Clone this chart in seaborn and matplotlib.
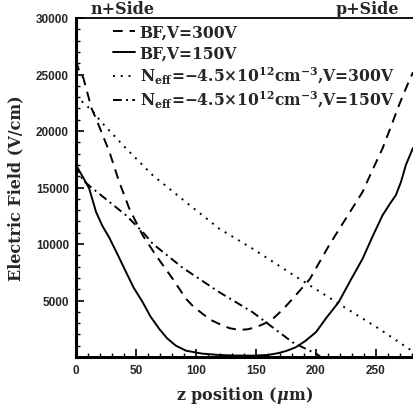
import numpy as np
import pandas as pd
import matplotlib
matplotlib.use("Agg")
import matplotlib.pyplot as plt
from matplotlib.ticker import MultipleLocator
import seaborn as sns

# ---- data (z in um, E in V/cm) ----
z_bf300 = [0, 3.3, 6.1, 13, 16.7, 27.8, 36, 44.4, 55.6, 66.7, 80.6, 91.7,
           98, 105.6, 112, 119.4, 128, 136, 143, 150, 157, 164, 172, 180.6,
           195, 211, 225, 239, 247, 255.6, 263, 269.4, 276, 281]
e_bf300 = [26200, 25100, 24700, 22000, 21100, 18170, 15500, 13140, 10770,
           8990, 6920, 5150, 4450, 3820, 3300, 2930, 2550, 2400, 2450, 2630,
           2950, 3370, 4150, 5150, 6900, 9880, 12250, 14620, 16500, 18460,
           20500, 22310, 24000, 25200]

z_bf150 = [0, 5.6, 11, 16.7, 22, 27.8, 35, 41.7, 48, 55.6, 62, 69.4, 76,
           83.3, 91.7, 105, 119, 133, 147, 160, 169, 176, 183, 191, 200,
           209, 219, 229, 239, 247, 255.6, 262, 266.7, 271, 275, 281]
e_bf150 = [16980, 15950, 14910, 12840, 11600, 10550, 9000, 7520, 6150, 4850,
           3600, 2490, 1650, 1000, 560, 300, 180, 130, 120, 180, 350, 560,
           850, 1400, 2190, 3500, 4850, 6800, 8700, 10600, 12540, 13600,
           14320, 15500, 16980, 18500]

z_n300 = [0, 14, 20.8, 41.7, 63.9, 91.7, 119.4, 147.2, 180.6, 219.4, 252.8,
          277.8, 282]
e_n300 = [23100, 21740, 20830, 18460, 16090, 13700, 11360, 9590, 7300, 4700,
          2490, 710, 400]

z_n150 = [0, 5.6, 13.9, 27.8, 41.7, 55.6, 63.9, 88.9, 119.4, 147.2, 169.4,
          180.6, 189, 201, 204]
e_n150 = [17000, 15650, 14910, 13730, 12540, 11070, 10030, 7900, 5740, 3970,
          2190, 1300, 860, 250, 0]

labels = [
    "BF,V=300V",
    "BF,V=150V",
    "$\\mathbf{N_{eff}}$=\u22124.5\u00d710$^{\\mathbf{12}}$cm$^{\\mathbf{-3}}$,V=300V",
    "$\\mathbf{N_{eff}}$=\u22124.5\u00d710$^{\\mathbf{12}}$cm$^{\\mathbf{-3}}$,V=150V",
]

sns.set_style("white")
plt.rcParams["font.family"] = ["DejaVu Serif"]
plt.rcParams["font.weight"] = "bold"
plt.rcParams["mathtext.fontset"] = "dejavuserif"

fig = plt.figure(figsize=(4.14, 4.06), dpi=100)
ax = fig.add_axes([76 / 414, 48 / 406, 337 / 414, 339 / 406])

series = [
    (z_bf300, e_bf300, (0, (5, 3.5))),
    (z_bf150, e_bf150, "-"),
    (z_n300, e_n300, (0, (1, 3))),
    (z_n150, e_n150, (0, (4.5, 2.2, 1, 2.2))),
]

for (z, e, ls), lab in zip(series, labels):
    df = pd.DataFrame({"z": z, "E": e})
    sns.lineplot(
        data=df,
        x="z",
        y="E",
        ax=ax,
        color="black",
        linewidth=1.4,
        linestyle=ls,
        estimator=None,
        label=lab,
    )

ax.set_xlim(0, 281)
ax.set_ylim(0, 30000)

ax.xaxis.set_major_locator(MultipleLocator(50))
ax.xaxis.set_minor_locator(MultipleLocator(10))
ax.yaxis.set_major_locator(MultipleLocator(5000))
ax.yaxis.set_minor_locator(MultipleLocator(1000))

ax.set_yticks([5000, 10000, 15000, 20000, 25000, 30000])
ax.tick_params(which="both", bottom=True, left=True, top=False, right=False,
               direction="in", color="black")
ax.tick_params(which="major", length=6, width=1.2, labelsize=8.5, pad=5)
ax.tick_params(which="minor", length=3, width=1)
for lab in ax.get_xticklabels() + ax.get_yticklabels():
    lab.set_family("Liberation Sans")
    lab.set_fontweight("bold")

for side in ["left", "bottom"]:
    ax.spines[side].set_linewidth(2.2)
    ax.spines[side].set_color("black")
ax.spines["top"].set_linewidth(1.3)
ax.spines["top"].set_color("black")
ax.spines["right"].set_linewidth(0.6)
ax.spines["right"].set_color("#c8c8c8")

ax.set_xlabel(r"z position ($\boldsymbol{\mu}$m)", fontsize=11.5,
              fontweight="bold", labelpad=6)
ax.set_ylabel("Electric Field (V/cm)", fontsize=11.5, fontweight="bold",
              labelpad=8)

ax.text(0.137, 1.004, "n+Side", transform=ax.transAxes, ha="center",
        va="bottom", fontsize=11.5, fontweight="bold")
ax.text(0.866, 1.004, "p+Side", transform=ax.transAxes, ha="center",
        va="bottom", fontsize=11.5, fontweight="bold")

ax.legend(
    loc="upper left",
    bbox_to_anchor=(0.083, 1.01),
    frameon=False,
    handlelength=1.4,
    handletextpad=0.3,
    labelspacing=0.22,
    borderaxespad=0.2,
    prop={"family": "DejaVu Serif", "weight": "bold", "size": 11.2},
)

fig.savefig("out.png", dpi=100)
